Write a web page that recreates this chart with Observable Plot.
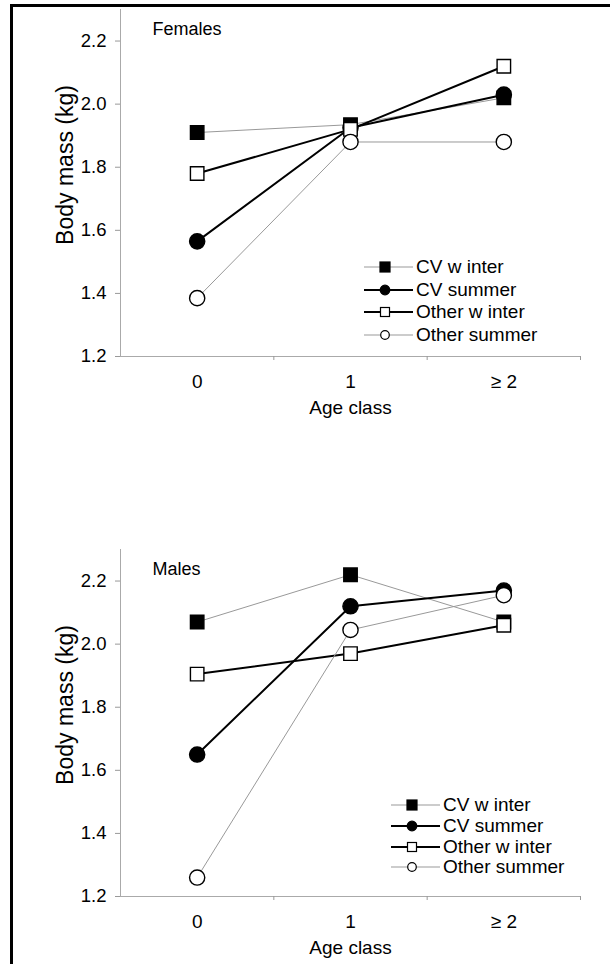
<!DOCTYPE html>
<html><head><meta charset="utf-8">
<script src="https://cdn.jsdelivr.net/npm/d3@7"></script>
<script src="https://cdn.jsdelivr.net/npm/@observablehq/plot@0.6"></script>
<style>
body{margin:0;background:#fff;font-family:Arial,"Liberation Sans",sans-serif;}
#page{position:relative;width:610px;height:964px;overflow:hidden;background:#fff;}
#frame{position:absolute;left:10px;top:4px;right:-5px;bottom:-5px;border-top:3px solid #000;border-left:3px solid #000;pointer-events:none;}
.panel{position:absolute;left:0;}
.legend{position:absolute;font-size:19px;color:#000;}
.row{display:flex;align-items:center;}
.row svg{display:block;margin-right:3px;}
</style></head><body><div id="page"><div id="frame"></div></div>
<script>
const ageClasses = ["0", "1", "\u2265 2"];
const seriesNames = ["CV winter", "CV summer", "Other winter", "Other summer"];
const legendLabels = ["CV w inter", "CV summer", "Other w inter", "Other summer"];
const yTicks = [1.2, 1.4, 1.6, 1.8, 2.0, 2.2];

// Females
const femCVWinter = [1.91, 1.935, 2.02];
const femCVSummer = [1.565, 1.925, 2.03];
const femOtherWinter = [1.78, 1.92, 2.12];
const femOtherSummer = [1.385, 1.88, 1.88];
// Males
const malCVWinter = [2.07, 2.22, 2.07];
const malCVSummer = [1.65, 2.12, 2.17];
const malOtherWinter = [1.905, 1.97, 2.06];
const malOtherSummer = [1.26, 2.045, 2.155];

const styles = [
  {symbol: "square", fill: "#000", stroke: "#000", line: "#999", lw: 1},
  {symbol: "circle", fill: "#000", stroke: "#000", line: "#000", lw: 2},
  {symbol: "square", fill: "#fff", stroke: "#000", line: "#000", lw: 2},
  {symbol: "circle", fill: "#fff", stroke: "#000", line: "#999", lw: 1}
];

function panel(vals, title) {
  const marks = [
    Plot.ruleY([1.2], {stroke: "#aaa", strokeWidth: 1}),
    Plot.ruleX([-0.5], {stroke: "#aaa", strokeWidth: 1}),
    Plot.axisY({ticks: yTicks, tickSize: 5, tickPadding: 9, tickFormat: d3.format(".1f"), stroke: "#999", fill: "#000", fontSize: 18.5, label: null}),
    Plot.axisX({ticks: [0.5, 1.5, 2.5], tickSize: 4, tickFormat: () => "", stroke: "#999", label: null}),
    Plot.axisX({ticks: [0, 1, 2], tickSize: 0, tickPadding: 18, tickFormat: i => ageClasses[i], fill: "#000", fontSize: 19, label: null}),
    Plot.text([title], {frameAnchor: "top-left", text: d => d, textAnchor: "start", dx: 32, dy: 13, fontSize: 18, fill: "#000"}),
    Plot.text(["Body mass (kg)"], {frameAnchor: "left", text: d => d, rotate: -90, textAnchor: "middle", dx: -55, dy: -18, fontSize: 23, fill: "#000"}),
    Plot.text(["Age class"], {frameAnchor: "bottom", text: d => d, dy: 57, fontSize: 19, fill: "#000"})
  ];
  const series = vals.map((v, i) => v.map((m, j) => ({series: seriesNames[i], age: j, mass: m})));
  series.forEach((d, i) => {
    marks.push(Plot.line(d, {x: "age", y: "mass", stroke: styles[i].line, strokeWidth: styles[i].lw}));
  });
  series.forEach((d, i) => {
    marks.push(Plot.dot(d, {x: "age", y: "mass", symbol: styles[i].symbol, r: 7.6, fill: styles[i].fill, stroke: styles[i].stroke, strokeWidth: 1.4}));
  });
  return Plot.plot({
    width: 610, height: 421,
    marginLeft: 120, marginRight: 30, marginTop: 9, marginBottom: 65,
    x: {domain: [-0.5, 2.5], axis: null},
    y: {domain: [1.2, 2.3], axis: null},
    style: {fontFamily: "Arial, 'Liberation Sans', sans-serif", color: "#000", background: "transparent", overflow: "visible"},
    marks
  });
}

function legend(left, top, rowH) {
  const div = document.createElement("div");
  div.className = "legend";
  div.style.left = left + "px";
  div.style.top = top + "px";
  legendLabels.forEach((lab, i) => {
    const s = styles[i];
    const row = document.createElement("div");
    row.className = "row";
    row.style.height = rowH + "px";
    const half = s.fill === "#000" ? 5 : 4.5;
    const sym = s.symbol === "square"
      ? `<rect x="${21 - half}" y="${11 - half}" width="${2 * half}" height="${2 * half}" fill="${s.fill}" stroke="#000" stroke-width="1.2"/>`
      : `<circle cx="21" cy="11" r="${s.fill === "#000" ? 4.8 : 4.3}" fill="${s.fill}" stroke="#000" stroke-width="1.2"/>`;
    row.innerHTML = `<svg width="49" height="22"><line x1="0" x2="49" y1="11" y2="11" stroke="${s.line}" stroke-width="${s.lw}"/>${sym}</svg><span>${lab}</span>`;
    div.appendChild(row);
  });
  return div;
}

const page = document.getElementById("page");
const p1 = panel([femCVWinter, femCVSummer, femOtherWinter, femOtherSummer], "Females");
p1.classList.add("panel"); p1.style.top = "0px";
const p2 = panel([malCVWinter, malCVSummer, malOtherWinter, malOtherSummer], "Males");
p2.classList.add("panel"); p2.style.top = "540px";
page.insertBefore(p1, page.firstChild);
page.insertBefore(p2, page.firstChild);
page.appendChild(legend(364, 256, 22.6));
page.appendChild(legend(391, 795, 20.7));
</script>
</body></html>
